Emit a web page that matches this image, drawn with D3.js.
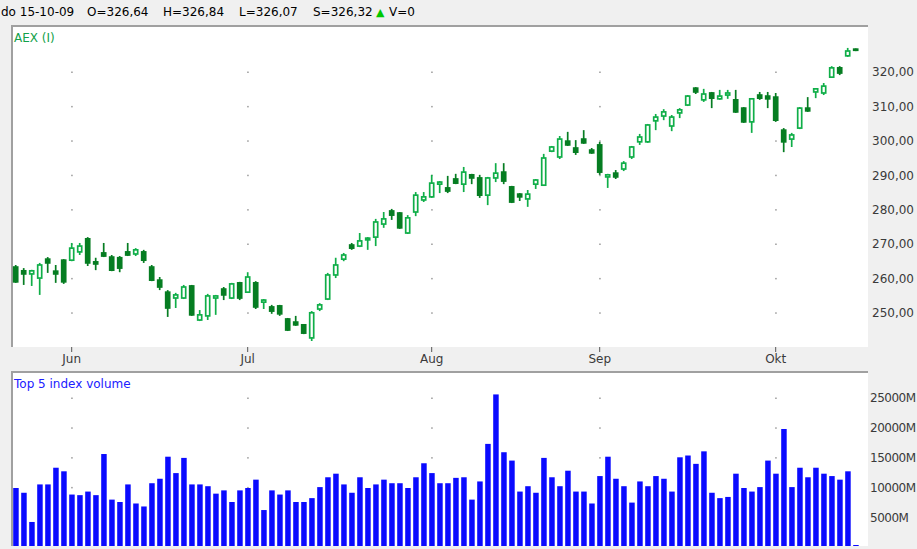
<!DOCTYPE html>
<html>
<head>
<meta charset="utf-8">
<script src="https://cdn.jsdelivr.net/npm/d3@7"></script>
<style>
  body { margin: 0; background: #f0f0f0; }
  svg { display: block; font-family: "DejaVu Sans", sans-serif; font-size: 12px; }
</style>
</head>
<body>
<script>
// AEX daily candles, 21 May - 15 Oct 2009
var open = [263.3,262.2,261.3,260.1,265.6,262.1,265.3,265.3,267.7,271.5,264.8,267.4,266.2,266.0,267.7,267.1,267.7,263.3,259.5,256.0,
  254.3,254.3,257.8,247.9,249.1,254.3,256.9,254.3,258.7,256.0,258.7,253.1,251.7,252.0,248.2,247.3,246.5,242.7,251.1,254.0,
  261.0,265.6,269.7,269.4,271.2,272.0,275.8,279.6,279.0,273.2,279.3,282.8,283.7,287.4,286.3,288.9,287.4,290.1,289.2,284.2,
  289.2,290.9,286.6,284.5,283.1,287.4,287.1,297.0,295.3,299.9,297.9,300.5,297.3,298.8,289.5,290.6,291.8,295.3,299.7,299.7,
  305.8,307.2,304.3,308.1,310.4,315.3,311.9,313.9,312.2,313.3,311.9,309.5,305.5,313.3,313.0,312.7,303.1,300.5,303.7,309.5,
  314.2,313.9,318.5,321.2,324.7,326.64];
var high = [263.9,263.0,262.5,264.5,266.2,263.9,265.6,270.3,270.3,272.0,266.0,270.3,266.8,266.5,270.3,268.8,268.3,263.9,260.4,256.6,
  255.8,258.1,258.1,250.8,255.5,255.2,257.5,258.7,259.0,261.8,259.2,254.0,252.3,252.3,248.5,249.1,246.7,250.5,252.8,261.6,
  266.0,267.4,270.3,273.2,272.0,277.3,279.3,280.2,279.3,278.4,285.1,285.1,290.1,288.3,289.8,290.4,292.4,290.4,290.1,289.5,
  293.5,293.5,286.9,284.8,285.7,288.9,296.2,298.5,301.4,302.6,300.2,303.1,297.9,299.7,290.4,291.5,294.1,298.5,302.0,304.9,
  307.8,309.2,307.5,309.5,313.3,315.6,315.1,314.2,314.8,314.8,314.8,309.8,312.4,314.2,314.2,313.9,303.7,302.3,309.8,312.7,
  315.3,316.8,321.7,321.7,327.0,326.84];
var low = [258.7,258.1,257.8,255.2,261.6,258.7,258.4,265.0,266.8,263.6,262.4,266.2,262.1,261.8,266.5,266.5,264.5,259.2,256.6,248.8,
  251.4,254.0,249.1,247.6,247.9,249.4,253.7,254.0,253.7,255.8,251.1,251.1,249.7,249.1,244.7,246.2,243.8,241.8,250.5,253.7,
  260.1,265.0,268.3,269.1,268.3,269.4,274.7,277.0,274.4,272.9,278.1,282.2,283.4,284.8,284.8,287.4,285.1,287.4,283.4,281.3,
  288.0,287.4,281.9,282.5,280.8,286.0,286.9,296.7,294.7,298.5,295.9,299.1,296.2,290.1,286.3,288.9,291.2,294.7,298.8,299.4,
  303.1,306.0,302.8,306.6,310.1,313.6,311.3,309.5,311.9,312.2,308.1,305.2,302.3,311.9,309.5,305.5,296.7,298.2,303.4,308.4,
  312.4,313.3,318.3,319.1,324.4,326.07];
var close = [259.0,261.3,262.2,263.9,264.5,261.3,259.0,268.8,269.4,264.5,264.2,266.5,262.4,263.0,266.8,268.3,265.3,259.5,257.5,251.4,
  255.2,257.5,249.4,249.4,254.9,254.9,255.2,258.4,254.3,260.4,251.7,253.7,250.5,249.7,245.0,246.5,244.1,250.0,252.3,261.0,
  263.9,266.8,268.8,270.9,271.7,276.4,277.3,278.4,274.7,277.6,284.2,283.7,287.7,288.0,285.4,287.7,290.9,289.2,284.2,289.2,
  290.6,288.3,282.2,283.7,284.5,288.6,295.0,298.2,300.5,298.8,296.7,299.4,296.5,290.9,290.1,289.5,293.5,298.2,301.1,304.6,
  306.9,308.4,306.9,309.0,313.0,314.2,313.6,312.4,313.0,313.9,308.4,305.5,312.2,312.4,312.2,306.0,299.7,301.7,309.5,308.7,
  315.1,315.9,321.2,319.7,326.1,326.32];
// Top 5 index volume, in millions
var volume = [9900,9100,4200,10500,10500,13300,12700,8800,8700,9300,8700,15600,7950,7550,10500,7300,6800,10700,11450,15150,
  12400,14950,10500,10500,10200,8950,9500,7550,9500,9900,11300,6200,9500,8800,9500,7550,7550,8200,10050,11700,
  12300,10500,9100,11700,9900,10500,11300,10700,10700,9900,11700,14050,12400,10700,10700,11600,11700,7950,11000,17300,
  25600,15900,14500,9300,10200,9100,14950,11700,10200,12800,9300,9300,7300,11900,15150,11450,10200,7450,11000,10200,
  11900,11450,9300,15050,15350,13950,16050,9100,8200,8400,12300,9900,9300,10050,14500,12300,19800,10050,13300,11700,
  13300,12300,11900,11300,12700,0];

var monthLabels = ["Jun", "Jul", "Aug", "Sep", "Okt"];
var priceTicks = [250, 260, 270, 280, 290, 300, 310, 320];
var volumeTicks = [5000, 10000, 15000, 20000, 25000];

// trading days (weekdays) shown on the x axis
var dates = d3.timeDay.range(new Date(2009, 4, 21), new Date(2009, 9, 16))
    .filter(function(d) { return d.getDay() > 0 && d.getDay() < 6; });

var data = dates.map(function(d, i) {
  return {date: d, o: open[i], h: high[i], l: low[i], c: close[i], v: volume[i]};
});

var width = 917, height = 549;
var upColor = "#0fae48", downColor = "#067d22";
var comma = function(v) { return d3.format(".2f")(v).replace(".", ","); };

var svg = d3.select("body").append("svg")
    .attr("width", width)
    .attr("height", height);

var x = d3.scalePoint()
    .domain(d3.range(dates.length))
    .range([15.7, 855.7]);

var y = d3.scaleLinear().domain([250, 320]).range([312.8, 72]);
var yv = d3.scaleLinear().domain([0, 25000]).range([547, 398]);

// month starts
var monthIdx = [];
dates.forEach(function(d, i) {
  if (i > 0 && d.getMonth() != dates[i - 1].getMonth()) monthIdx.push(i);
});

// header line
var header = svg.append("text").attr("y", 16).attr("fill", "#000");
header.append("tspan").attr("x", 1).text("do 15-10-09");
header.append("tspan").attr("x", 87).text("O=" + comma(open[105]));
header.append("tspan").attr("x", 163).text("H=" + comma(high[105]));
header.append("tspan").attr("x", 239).text("L=" + comma(low[105]));
header.append("tspan").attr("x", 313).text("S=" + comma(close[105]));
header.append("tspan").attr("x", 376).attr("fill", "#00c800").style("font-size", "11px").text("\u25B2");
header.append("tspan").attr("x", 389).text("V=" + volume[105]);

// panels
function panel(x0, y0, x1, y1) {
  svg.append("rect").attr("x", x0).attr("y", y0)
      .attr("width", x1 - x0).attr("height", y1 - y0).attr("fill", "#fff");
  svg.append("path")
      .attr("d", "M" + (x0 - 1) + "," + y1 + "V" + (y0 - 1) + "H" + x1)
      .attr("fill", "none").attr("stroke", "#a0a0a0").attr("stroke-width", 2);
}
panel(13, 27, 868, 347);
panel(13, 373, 868, 546);

svg.append("text").attr("x", 14).attr("y", 42).attr("fill", "#13a14a").text("AEX (I)");
svg.append("text").attr("x", 14).attr("y", 388).attr("fill", "#2020ff").text("Top 5 index volume");

// dotted grid at month x / tick y
var dots = [];
monthIdx.forEach(function(i) {
  priceTicks.forEach(function(t) { dots.push([x(i), y(t)]); });
  volumeTicks.forEach(function(t) { dots.push([x(i), yv(t)]); });
});
svg.append("g").selectAll("rect").data(dots).enter().append("rect")
    .attr("x", function(d) { return d[0] - 0.5; })
    .attr("y", function(d) { return d[1] - 0.5; })
    .attr("width", 1.5).attr("height", 1.5)
    .attr("fill", "#9a9a9a");

// price labels
svg.append("g").selectAll("text").data(priceTicks).enter().append("text")
    .attr("x", 872)
    .attr("y", function(d) { return y(d); })
    .attr("dy", "0.36em")
    .attr("fill", "#3a3a3a")
    .text(comma);

// volume labels (squeezed a little so they stay inside the window)
svg.append("g").selectAll("text").data(volumeTicks).enter().append("text")
    .attr("x", 870)
    .attr("y", function(d) { return yv(d); })
    .attr("dy", "0.36em")
    .attr("fill", "#3a3a3a")
    .attr("letter-spacing", -0.5)
    .text(function(d) { return d + "M"; });

// month ticks and labels
var months = svg.append("g").selectAll("g").data(monthIdx).enter().append("g")
    .attr("transform", function(i) { return "translate(" + x(i) + ",0)"; });
months.append("line").attr("y1", 347).attr("y2", 352).attr("stroke", "#555");
months.append("text")
    .attr("y", 363)
    .attr("text-anchor", "middle")
    .attr("fill", "#3a3a3a")
    .text(function(i, k) { return monthLabels[k]; });

// candles
var candle = svg.append("g").selectAll("g").data(data).enter().append("g")
    .attr("transform", function(d, i) { return "translate(" + x(i) + ",0)"; });

candle.append("line")
    .attr("y1", function(d) { return y(d.h); })
    .attr("y2", function(d) { return y(d.l); })
    .attr("stroke", function(d) { return d.c >= d.o ? upColor : downColor; })
    .attr("stroke-width", 1.7);

candle.append("rect")
    .attr("x", -2)
    .attr("y", function(d) { return y(Math.max(d.o, d.c)); })
    .attr("width", 4)
    .attr("height", function(d) { return Math.max(1, Math.abs(y(d.o) - y(d.c))); })
    .attr("fill", function(d) { return d.c >= d.o ? "#fff" : downColor; })
    .attr("stroke", function(d) { return d.c >= d.o ? upColor : downColor; })
    .attr("stroke-width", 1.7);

// volume bars
svg.append("g").selectAll("rect").data(data).enter().append("rect")
    .attr("x", function(d, i) { return x(i) - 2.5; })
    .attr("y", function(d) { return Math.min(yv(d.v), 545); })
    .attr("width", 5.5)
    .attr("height", function(d) { return Math.max(1, 546 - Math.min(yv(d.v), 545)); })
    .attr("fill", "#0a0aff");
</script>
</body>
</html>
